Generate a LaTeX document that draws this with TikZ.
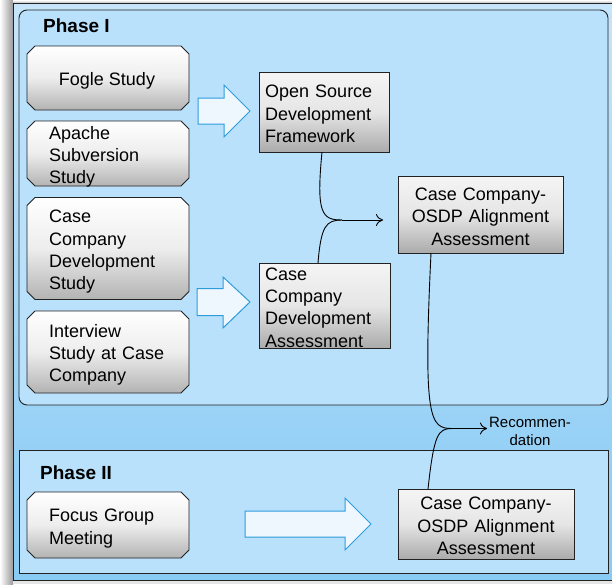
\documentclass[tikz,border=0pt]{standalone}
\usepackage{fontspec}
\setmainfont{Liberation Sans}
\usetikzlibrary{arrows.meta,calc}
\definecolor{outerTop}{HTML}{C6E5FA}
\definecolor{outerBot}{HTML}{88CBF4}
\definecolor{phaseFill}{HTML}{B9E1FC}
\definecolor{arrowLine}{HTML}{2D9CDB}
\definecolor{arrowFill}{HTML}{EFF7FE}
\definecolor{edge}{HTML}{222222}
\tikzset{
  boxfont/.style={font=\fontsize{18}{22.3}\selectfont},
  area/.style={rectangle, inner sep=0pt, outer sep=0pt},
  chamstyle/.style={draw=edge, line width=0.9pt, top color=white, bottom color=black!30, middle color=black!7},
  rectbox/.style={area, draw=edge, line width=0.9pt, top color=black!4, bottom color=black!33, middle color=black!10},
  lefttext/.style={boxfont, anchor=west, inner sep=0pt, align=left, text width=135pt},
  centertext/.style={boxfont, inner sep=0pt, align=center, text width=170pt},
  blockarrow/.style={draw=arrowLine, fill=arrowFill, line width=1pt, line join=miter},
  curve/.style={draw=black, line width=0.9pt},
  conn/.style={draw=black, line width=0.9pt, -{To[length=7pt,width=12pt]}},
  phaselabel/.style={font=\fontsize{19}{22}\selectfont\bfseries, anchor=base west, inner sep=0pt},
}
\newcommand\chamf[1]{\path[chamstyle] ([xshift=8pt]#1.north west) -- ([xshift=-8pt]#1.north east) -- ([yshift=-8pt]#1.north east) -- ([yshift=8pt]#1.south east) -- ([xshift=-8pt]#1.south east) -- ([xshift=8pt]#1.south west) -- ([yshift=8pt]#1.south west) -- ([yshift=-8pt]#1.north west) -- cycle;}
\begin{document}
\begin{tikzpicture}[x=1pt,y=-1pt]
\useasboundingbox (0,0) rectangle (612,584);
% shadow
\shade[left color=white, right color=black!40] (0,0) rectangle (13,584);
\shade[top color=white, bottom color=black!25] (13,0) rectangle (612,3);
\fill[black!10] (13,580) rectangle (612,584);
% outer frame
\shade[top color=outerTop, bottom color=outerBot] (13,3) rectangle (616,580);
\draw[edge, line width=0.8pt] (616,3) -- (13,3) -- (13,580) -- (616,580);
% phase boxes
\draw[edge, fill=phaseFill, line width=0.9pt, rounded corners=8pt] (19,10) rectangle (608,405);
\draw[edge, fill=phaseFill, line width=0.9pt] (19,450) rectangle (608,573);
\node[phaselabel] (p1) at (43,32) {Phase I};
\node[phaselabel] (p2) at (40,479) {Phase II};
% left boxes
\node[area, minimum width=162pt, minimum height=64pt] (fogle) at (108,78) {};
\node[area, minimum width=162pt, minimum height=65pt] (apache) at (108,153.5) {};
\node[area, minimum width=162pt, minimum height=102pt] (ccds) at (108,248.5) {};
\node[area, minimum width=162pt, minimum height=82pt] (interview) at (108,352) {};
\node[area, minimum width=162pt, minimum height=66pt] (focus) at (108,525) {};
\chamf{fogle}\chamf{apache}\chamf{ccds}\chamf{interview}\chamf{focus}
\node[boxfont, inner sep=0pt] (fogleT) at ([xshift=-1pt,yshift=-3pt]fogle.center) {Fogle Study};
\node[lefttext] (apacheT) at ([xshift=22pt,yshift=-3.5pt]apache.west) {Apache\\Subversion\\Study};
\node[lefttext] (ccdsT) at ([xshift=22pt,yshift=-3.5pt]ccds.west) {Case\\Company\\Development\\Study};
\node[lefttext] (interviewT) at ([xshift=22pt,yshift=-3pt]interview.west) {Interview\\Study at Case\\Company};
\node[lefttext] (focusT) at ([xshift=22pt,yshift=-3.5pt]focus.west) {Focus Group\\Meeting};
% middle boxes
\node[rectbox, minimum width=130pt, minimum height=80pt] (osdf) at (324,112) {};
\node[rectbox, minimum width=131pt, minimum height=85pt] (ccda) at (324.5,305.5) {};
\node[lefttext] (osdfT) at ([xshift=6pt,yshift=-2pt]osdf.west) {Open Source\\Development\\Framework};
\node[lefttext] (ccdaT) at ([xshift=6pt,yshift=-2pt]ccda.west) {Case\\Company\\Development\\Assessment};
% right boxes
\node[rectbox, minimum width=165pt, minimum height=77pt] (ccoa1) at (480.5,214.5) {};
\node[rectbox, minimum width=176pt, minimum height=70pt] (ccoa2) at (486,524) {};
\node[centertext] (ccoa1T) at ([yshift=-2pt]ccoa1.center) {Case Company-\\OSDP Alignment\\Assessment};
\node[centertext] (ccoa2T) at ([yshift=-2pt]ccoa2.center) {Case Company-\\OSDP Alignment\\Assessment};
% block arrows
\draw[blockarrow] (198,98) -- (224,98) -- (224,85) -- (250,111) -- (224,137) -- (224,124) -- (198,124) -- cycle;
\draw[blockarrow] (197,288.5) -- (223,288.5) -- (223,277) -- (250,302) -- (223,328) -- (223,315.5) -- (197,315.5) -- cycle;
\draw[blockarrow] (245,511) -- (345,511) -- (345,498) -- (371,524) -- (345,550) -- (345,537) -- (245,537) -- cycle;
% connectors
\coordinate (j1) at (342,220);
\coordinate (t1) at (383,220);
\draw[curve] ([xshift=-2pt]osdf.south) .. controls (316,214) and (322,220) .. (j1);
\draw[curve] ([xshift=-6.5pt]ccda.north) .. controls (321,226) and (326,220) .. (j1);
\draw[conn] (j1) -- (t1);
\coordinate (j2) at (452,428.5);
\coordinate (t2) at (487,428.5);
\draw[curve] ([xshift=-49.5pt]ccoa1.south) .. controls (423,420) and (430,428.5) .. (j2);
\draw[curve] ([xshift=-58pt]ccoa2.north) .. controls (434,434) and (438,428.5) .. (j2);
\draw[conn] (j2) -- (t2);
\node[font=\fontsize{15}{18}\selectfont, align=center, inner sep=0pt] (rec) at (530,431) {Recommen-\\dation};
\end{tikzpicture}
\end{document}
